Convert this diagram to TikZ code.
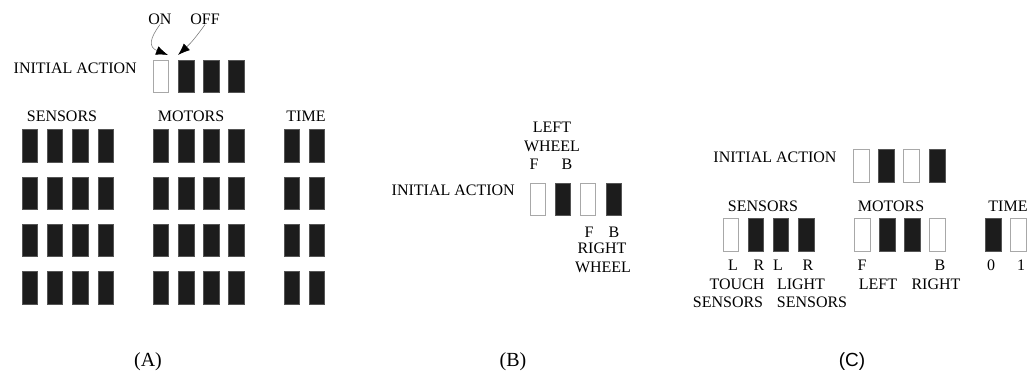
\documentclass[tikz,border=0pt]{standalone}
\usepackage{fontspec}
\setmainfont{Liberation Serif}
\setsansfont{Liberation Sans}
\usetikzlibrary{arrows.meta}
\definecolor{boxfill}{HTML}{1C1C1C}
\definecolor{boxline}{HTML}{A8A8A8}
\begin{document}
\begin{tikzpicture}[x=1pt,y=-1pt,
  bit/.style={minimum width=15.5pt,minimum height=32.5pt,inner sep=0pt,outer sep=0pt,line width=0.9pt},
  onbit/.style={bit,draw=boxline,fill=white},
  offbit/.style={bit,draw=boxfill!75!white,fill=boxfill},
  lbl/.style={inner sep=0pt,font=\fontsize{16}{18}\selectfont},
  panelcap/.style={inner sep=0pt,font=\fontsize{20}{22}\selectfont},
  pointer/.style={draw=gray,line width=0.6pt,-{Latex[length=12pt,width=9pt,black]}}]
\useasboundingbox (0,0) rectangle (1029,374);

% ---------------- (A) ----------------
\node[lbl] (aon) at (160,19) {ON};
\node[lbl] (aoff) at (205,19) {OFF};
\node[lbl,anchor=east] (ainit) at (137,68.5) {INITIAL ACTION};
\node[onbit] (ai1) at (161,76.5) {};
\node[offbit] (ai2) at (186.5,76.5) {};
\node[offbit] (ai3) at (211.5,76.5) {};
\node[offbit] (ai4) at (236.5,76.5) {};
\coordinate (aontip) at (168,55);
\coordinate (aofftip) at (178,55);
\draw[pointer] (aon.south) .. controls (150,38) and (148,47) .. (aontip);
\draw[pointer] (aoff.south) .. controls (196,37) and (191,43) .. (aofftip);
\node[lbl] (asens) at (62,116) {SENSORS};
\node[lbl] (amot) at (191,116) {MOTORS};
\node[lbl] (atime) at (306,116) {TIME};
\foreach \r/\y in {1/146,2/193.5,3/240.5,4/288}{
  \foreach \c/\x in {1/30,2/55,3/80.5,4/106}
    \node[offbit] (as\r\c) at (\x,\y) {};
  \foreach \c/\x in {1/161,2/186.5,3/211.5,4/236.5}
    \node[offbit] (am\r\c) at (\x,\y) {};
  \foreach \c/\x in {1/292,2/317}
    \node[offbit] (at\r\c) at (\x,\y) {};
}
\node[panelcap] (capa) at (148,362) {(A)};

% ---------------- (B) ----------------
\node[lbl] (bleft) at (552,127) {LEFT};
\node[lbl] (bwheel) at (552,146) {WHEEL};
\node[lbl] (bf1) at (534,164) {F};
\node[lbl] (bb1) at (567,164) {B};
\node[lbl,anchor=east] (binit) at (515,190) {INITIAL ACTION};
\node[onbit] (bi1) at (538,199.5) {};
\node[offbit] (bi2) at (563,199.5) {};
\node[onbit] (bi3) at (588,199.5) {};
\node[offbit] (bi4) at (614,199.5) {};
\node[lbl] (bf2) at (589,232) {F};
\node[lbl] (bb2) at (614,232) {B};
\node[lbl] (bright) at (602,248.5) {RIGHT};
\node[lbl] (bwheel2) at (603,267.5) {WHEEL};
\node[panelcap] (capb) at (513,362) {(B)};

% ---------------- (C) ----------------
\node[lbl] (cinit) at (775,157.5) {INITIAL ACTION};
\node[onbit] (ci1) at (861.5,166) {};
\node[offbit] (ci2) at (886.5,166) {};
\node[onbit] (ci3) at (911.5,166) {};
\node[offbit] (ci4) at (937.5,166) {};
\node[lbl] (csens) at (763,206) {SENSORS};
\node[lbl] (cmot) at (891,206) {MOTORS};
\node[lbl] (ctime) at (1008,206) {TIME};
\node[onbit] (cs1) at (731,235) {};
\node[offbit] (cs2) at (756,235) {};
\node[offbit] (cs3) at (781,235) {};
\node[offbit] (cs4) at (806.5,235) {};
\node[onbit] (cm1) at (862.5,235) {};
\node[offbit] (cm2) at (887.5,235) {};
\node[offbit] (cm3) at (912.5,235) {};
\node[onbit] (cm4) at (937.5,235) {};
\node[offbit] (ct1) at (993.5,235) {};
\node[onbit] (ct2) at (1018.5,235) {};
\node[lbl] (cl1) at (733,265) {L};
\node[lbl] (cr1) at (759,265) {R};
\node[lbl] (cl2) at (778,265) {L};
\node[lbl] (cr2) at (808,265) {R};
\node[lbl] (ctouch) at (737,284) {TOUCH};
\node[lbl] (clight) at (801,284) {LIGHT};
\node[lbl] (ctsens) at (728,302) {SENSORS};
\node[lbl] (clsens) at (812,302) {SENSORS};
\node[lbl] (cf) at (862,265) {F};
\node[lbl] (cb) at (940,265) {B};
\node[lbl] (cleft) at (878,284) {LEFT};
\node[lbl] (cright) at (936,284) {RIGHT};
\node[lbl] (c0) at (991,265) {0};
\node[lbl] (c1) at (1021,265) {1};
\node[panelcap,font=\fontsize{19}{22}\selectfont\sffamily] (capc) at (852,362) {(C)};
\end{tikzpicture}
\end{document}
